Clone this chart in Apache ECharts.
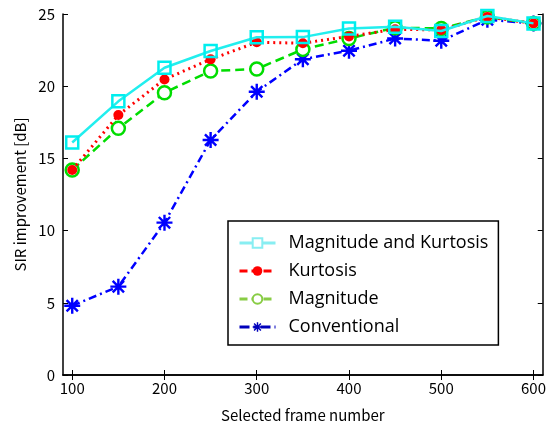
<!DOCTYPE html>
<html><head><meta charset="utf-8">
<script src="https://cdn.jsdelivr.net/npm/echarts@6/dist/echarts.min.js"></script>
<style>html,body{margin:0;padding:0;background:#fff}#c{width:549px;height:430px}</style>
</head><body><div id="c"></div>
<script>
var frames = [100,150,200,250,300,350,400,450,500,550,600];
var magKurt = [16.1,18.95,21.28,22.44,23.39,23.4,24.0,24.12,23.82,24.86,24.35];
var kurtosis = [14.2,18.0,20.47,21.86,23.04,22.98,23.45,23.94,23.9,24.8,24.35];
var magnitude = [14.2,17.08,19.55,21.05,21.19,22.55,23.3,24.05,24.0,24.8,24.35];
var conventional = [4.8,6.12,10.55,16.27,19.62,21.87,22.46,23.3,23.15,24.6,24.35];
var xTicks = [100,200,300,400,500,600];
var names = ['Magnitude and Kurtosis','Kurtosis','Magnitude','Conventional'];

function pairs(v){ return frames.map(function(f,i){ return [f, v[i]]; }); }
var star = 'path://M8.5 0L11.5 0L11.5 20L8.5 20Z M0 8.5L20 8.5L20 11.5L0 11.5Z M4 1.86L18.14 16L16 18.14L1.86 4Z M16 1.86L18.14 4L4 18.14L1.86 16Z';
var axisFont = '"Noto Sans CJK JP", "DejaVu Sans", sans-serif';

var chart = echarts.init(document.getElementById('c'), null, {renderer:'canvas'});
chart.setOption({
  animation:false,
  backgroundColor:'#fff',
  grid:{left:63,right:4,top:14,bottom:55},
  xAxis:[{
    type:'value', min:90, max:610,
    name:'Selected frame number', nameLocation:'middle', nameGap:33,
    nameTextStyle:{color:'#000',fontSize:15,fontFamily:axisFont},
    axisLine:{lineStyle:{color:'#000',width:1.5}},
    axisTick:{inside:true,length:5,customValues:xTicks,lineStyle:{color:'#000'}},
    axisLabel:{customValues:xTicks,color:'#000',fontSize:15,fontFamily:axisFont,margin:6},
    splitLine:{show:false}
  },{
    type:'value', min:90, max:610, position:'top',
    axisLine:{lineStyle:{color:'#000',width:1.5}},
    axisTick:{inside:true,length:5,customValues:xTicks,lineStyle:{color:'#000'}},
    axisLabel:{show:false}, splitLine:{show:false}
  }],
  yAxis:[{
    type:'value', min:0, max:25, interval:5,
    name:'SIR improvement [dB]', nameLocation:'middle', nameGap:34,
    nameTextStyle:{color:'#000',fontSize:15,fontFamily:axisFont},
    axisLine:{lineStyle:{color:'#000',width:1.5}},
    axisTick:{inside:true,length:5,lineStyle:{color:'#000'}},
    axisLabel:{color:'#000',fontSize:15,fontFamily:axisFont,margin:8},
    splitLine:{show:false}
  },{
    type:'value', min:0, max:25, interval:5, position:'right',
    axisLine:{lineStyle:{color:'#000',width:1.5}},
    axisTick:{inside:true,length:5,lineStyle:{color:'#000'}},
    axisLabel:{show:false}, splitLine:{show:false}
  }],
  legend:{
    orient:'vertical', left:228, top:221, width:298,
    padding:[13,10,9,10], itemGap:10, itemWidth:36, itemHeight:12,
    borderColor:'#000', borderWidth:1.5, backgroundColor:'#fff',
    textStyle:{fontSize:18,color:'#000',fontFamily:'"Open Sans", sans-serif',padding:[0,0,0,8]},
    data:[
      {name:names[0], itemStyle:{color:'#fff',borderColor:'#88eef2',borderWidth:2}, lineStyle:{color:'#88eef2',width:3,type:'solid'}},
      {name:names[1], itemStyle:{color:'#ff0000'}, lineStyle:{color:'#ff0000',width:3,type:[8,4]}},
      {name:names[2], itemStyle:{color:'#fff',borderColor:'#88cc44',borderWidth:2}, lineStyle:{color:'#88cc44',width:3,type:[8,4]}},
      {name:names[3], itemStyle:{color:'#0000bb'}, lineStyle:{color:'#0000bb',width:3,type:[10,4,3,4]}}
    ]
  },
  series:[
    {name:names[3], type:'line', data:pairs(conventional), symbol:star, symbolSize:16,
     itemStyle:{color:'#0000ff'}, lineStyle:{color:'#0000ff',width:2.5,type:[8,4,2,4]}, z:2},
    {name:names[2], type:'line', data:pairs(magnitude), symbol:'circle', symbolSize:13,
     itemStyle:{color:'#fff',borderColor:'#00dd00',borderWidth:2.5}, lineStyle:{color:'#00dd00',width:2.5,type:[9,5]}, z:3},
    {name:names[1], type:'line', data:pairs(kurtosis), symbol:'circle', symbolSize:10,
     itemStyle:{color:'#ff0000'}, lineStyle:{color:'#ff0000',width:3,type:[2,4]}, z:4},
    {name:names[0], type:'line', data:pairs(magKurt), symbol:'rect', symbolSize:12,
     itemStyle:{color:'rgba(255,255,255,0)',borderColor:'#00eeee',borderWidth:2.5}, lineStyle:{color:'#22eeee',width:2.5}, z:5}
  ]
});
</script></body></html>
